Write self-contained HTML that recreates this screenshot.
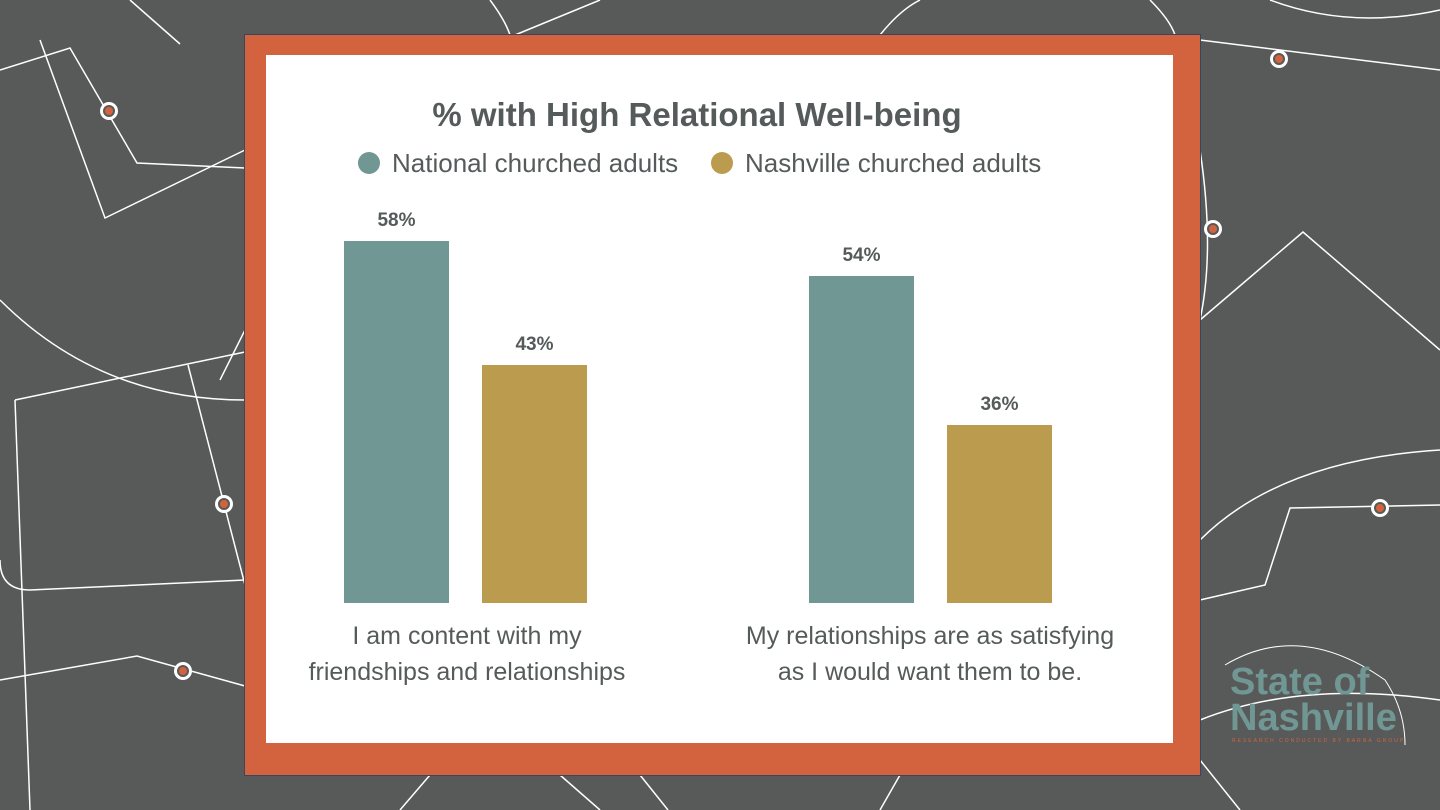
<!DOCTYPE html>
<html><head><meta charset="utf-8"><style>
body{margin:0;width:1440px;height:810px;background:#575a59;overflow:hidden;position:relative;font-family:"Liberation Sans",sans-serif}
svg.bg{position:absolute;left:0;top:0}
.frame{position:absolute;left:245px;top:35px;width:955px;height:740px;background:#d3633e;box-shadow:0 0 0 1px #3a4560}
.inner{position:absolute;left:266px;top:55px;width:907px;height:688px;background:#fff}
.t{position:absolute;color:#555a5a;white-space:nowrap}
.bar{position:absolute;width:105px}
.v{position:absolute;width:105px;text-align:center;font-weight:bold;font-size:19px;color:#555a5a}
</style></head><body>
<svg class="bg" width="1440" height="810" fill="none" stroke="#fff" stroke-width="1.5">
<path d="M0 70 L70 48 L137 163 L245 168"/><path d="M40 40 L105 218 L245 150"/>
<path d="M0 300 Q100 400 245 400"/><path d="M15 400 L245 352"/><path d="M15 400 L30 810"/>
<path d="M188 365 L245 585"/><path d="M0 560 Q0 590 30 590 L245 580"/>
<path d="M0 680 L137 656 L245 686"/><path d="M220 380 L245 330"/>
<path d="M400 810 L430 775"/><path d="M560 775 L600 810"/><path d="M640 775 L668 810"/><path d="M900 775 L880 810"/>
<path d="M490 0 Q505 20 510 35"/><path d="M515 35 L600 0"/><path d="M180 44 L130 0"/>
<path d="M880 35 Q900 10 920 0"/><path d="M1150 0 Q1170 20 1175 35"/>
<path d="M1200 40 L1440 70"/><path d="M1270 0 Q1350 30 1440 10"/>
<path d="M1200 320 L1303 232 L1440 350"/><path d="M1200 150 Q1215 250 1200 320"/>
<path d="M1200 540 Q1280 460 1440 450"/><path d="M1200 600 L1265 585 L1290 508 L1440 505"/>
<path d="M1200 720 Q1300 680 1440 700"/><path d="M1200 760 L1240 810"/>
<g fill="#fff" stroke="none"><circle cx="109" cy="111" r="9"/><circle cx="224" cy="504" r="9"/><circle cx="183" cy="671" r="9"/><circle cx="1279" cy="59" r="9"/><circle cx="1213" cy="229" r="9"/><circle cx="1380" cy="508" r="9"/></g>
<g fill="#d3633e" stroke="#575a59" stroke-width="2"><circle cx="109" cy="111" r="5"/><circle cx="224" cy="504" r="5"/><circle cx="183" cy="671" r="5"/><circle cx="1279" cy="59" r="5"/><circle cx="1213" cy="229" r="5"/><circle cx="1380" cy="508" r="5"/></g>
<path d="M1225 665 Q1300 620 1385 680 Q1405 710 1405 745" stroke-width="1"/>
</svg>
<div class="frame"></div><div class="inner"></div>
<div class="t" style="left:0;width:1394px;text-align:center;top:96px;font-size:33px;font-weight:bold">% with High Relational Well-being</div>
<div style="position:absolute;left:358px;top:152px;width:22px;height:22px;border-radius:50%;background:#719794"></div>
<div class="t" style="left:392px;top:148px;font-size:26px">National churched adults</div>
<div style="position:absolute;left:711px;top:152px;width:22px;height:22px;border-radius:50%;background:#bb9c4f"></div>
<div class="t" style="left:745px;top:148px;font-size:26px">Nashville churched adults</div>
<div class="bar" style="left:344px;top:241px;height:362px;background:#719794"></div>
<div class="bar" style="left:482px;top:365px;height:238px;background:#bb9c4f"></div>
<div class="bar" style="left:809px;top:276px;height:327px;background:#719794"></div>
<div class="bar" style="left:947px;top:425px;height:178px;background:#bb9c4f"></div>
<div class="v" style="left:344px;top:210px">58%</div>
<div class="v" style="left:482px;top:334px">43%</div>
<div class="v" style="left:809px;top:245px">54%</div>
<div class="v" style="left:947px;top:394px">36%</div>
<div class="t" style="left:267px;width:400px;text-align:center;top:618px;font-size:25px;line-height:36px">I am content with my<br>friendships and relationships</div>
<div class="t" style="left:730px;width:400px;text-align:center;top:618px;font-size:25px;line-height:36px">My relationships are as satisfying<br>as I would want them to be.</div>
<div class="t" style="left:1230px;top:664px;font-size:38px;font-weight:bold;color:#719794;line-height:36px">State of<br>Nashville</div>
<div class="t" style="left:1232px;top:738px;font-size:5px;color:#d3633e;letter-spacing:2px">RESEARCH CONDUCTED BY BARNA GROUP</div>
</body></html>
